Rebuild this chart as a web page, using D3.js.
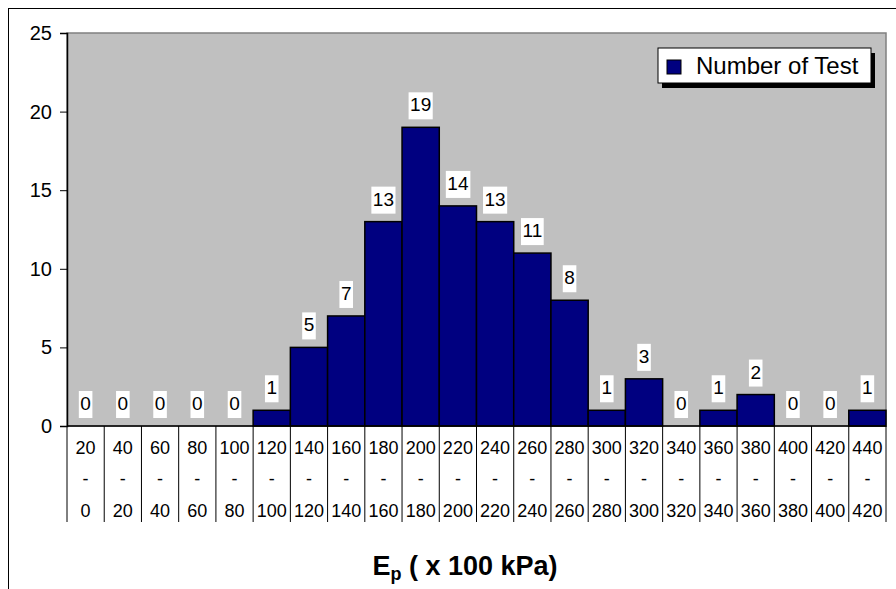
<!DOCTYPE html>
<html>
<head>
<meta charset="utf-8">
<script src="https://cdn.jsdelivr.net/npm/d3@7"></script>
<style>
  body { margin: 0; background: #fff; }
  svg { display: block; font-family: Arial, "Liberation Sans", sans-serif; }
</style>
</head>
<body>
<div class="chart-wrapper"></div>
<script>
// bin upper / lower edges (x 100 kPa) and counts
const upperEdges = ['20', '40', '60', '80', '100', '120', '140', '160', '180', '200', '220',
  '240', '260', '280', '300', '320', '340', '360', '380', '400', '420', '440'];
const lowerEdges = ['0', '20', '40', '60', '80', '100', '120', '140', '160', '180', '200',
  '220', '240', '260', '280', '300', '320', '340', '360', '380', '400', '420'];
const counts = [0, 0, 0, 0, 0, 1, 5, 7, 13, 19, 14, 13, 11, 8, 1, 3, 0, 1, 2, 0, 0, 1];
const yTicks = [0, 5, 10, 15, 20, 25];
const seriesName = 'Number of Test';

const width = 896, height = 589;
const plot = { left: 67, right: 886, top: 33, bottom: 426 };

const data = upperEdges.map((u, i) => ({ key: u + '-' + lowerEdges[i], upper: u, lower: lowerEdges[i], value: counts[i] }));

const svg = d3.select('.chart-wrapper')
  .append('svg')
  .attr('width', width)
  .attr('height', height);

// outer chart frame
svg.append('rect')
  .attr('x', 8.5).attr('y', 8.5)
  .attr('width', 920).attr('height', 620)
  .attr('fill', 'none')
  .attr('stroke', '#000')
  .attr('stroke-width', 1);

const x = d3.scaleBand()
  .domain(data.map(d => d.key))
  .range([plot.left, plot.right])
  .padding(0);

const y = d3.scaleLinear()
  .domain([0, 25])
  .range([plot.bottom, plot.top]);

// plot area
svg.append('rect')
  .attr('x', plot.left).attr('y', plot.top)
  .attr('width', plot.right - plot.left).attr('height', plot.bottom - plot.top)
  .attr('fill', '#c0c0c0')
  .attr('stroke', '#808080')
  .attr('stroke-width', 1.5);

// bars
svg.append('g')
  .selectAll('rect')
  .data(data)
  .enter()
  .append('rect')
  .attr('x', d => x(d.key))
  .attr('y', d => y(d.value))
  .attr('width', x.bandwidth())
  .attr('height', d => y(0) - y(d.value))
  .attr('fill', '#000080')
  .attr('stroke', '#000')
  .attr('stroke-width', d => d.value > 0 ? 1.5 : 0);

// y axis
const yAxis = d3.axisLeft(y).tickValues(yTicks).tickSize(7).tickPadding(8);
const yg = svg.append('g')
  .attr('transform', 'translate(' + plot.left + ',0)')
  .call(yAxis);
yg.select('.domain').attr('stroke', '#000').attr('stroke-width', 1.5);
yg.selectAll('.tick line').attr('stroke', '#000');
yg.selectAll('.tick text')
  .attr('font-size', '20px')
  .attr('fill', '#000')
  .attr('font-family', 'Arial, "Liberation Sans", sans-serif');

// x axis line
svg.append('line')
  .attr('x1', plot.left).attr('x2', plot.right)
  .attr('y1', plot.bottom).attr('y2', plot.bottom)
  .attr('stroke', '#000').attr('stroke-width', 1.5);

// category separators (table style)
const edges = data.map(d => x(d.key)).concat([x(data[data.length - 1].key) + x.bandwidth()]);
svg.append('g')
  .selectAll('line')
  .data(edges)
  .enter()
  .append('line')
  .attr('x1', d => d).attr('x2', d => d)
  .attr('y1', plot.bottom).attr('y2', 522)
  .attr('stroke', '#000').attr('stroke-width', 1);

// category labels, three rows
const cats = svg.append('g')
  .selectAll('g')
  .data(data)
  .enter()
  .append('g')
  .attr('transform', d => 'translate(' + (x(d.key) + x.bandwidth() / 2) + ',0)')
  .attr('font-size', '18px')
  .attr('text-anchor', 'middle');
cats.append('text').attr('y', 454).text(d => d.upper);
cats.append('text').attr('y', 485).text('-');
cats.append('text').attr('y', 517).text(d => d.lower);

// value labels with white boxes
const labels = svg.append('g')
  .selectAll('g')
  .data(data)
  .enter()
  .append('g')
  .attr('transform', d => 'translate(' + (x(d.key) + x.bandwidth() / 2) + ',' + (y(d.value) - 8) + ')');

labels.append('text')
  .attr('class', 'label')
  .attr('text-anchor', 'middle')
  .attr('y', -8)
  .attr('font-size', '19px')
  .attr('fill', '#000')
  .text(d => d.value);

labels.each(function () {
  const g = d3.select(this);
  const bb = g.select('text').node().getBBox();
  g.insert('rect', 'text')
    .attr('x', bb.x - 1.5)
    .attr('y', -27)
    .attr('width', bb.width + 3)
    .attr('height', 27)
    .attr('fill', '#fff');
});

// legend
const legend = svg.append('g').attr('transform', 'translate(658,48)');
legend.append('rect')
  .attr('x', 4).attr('y', 5)
  .attr('width', 213).attr('height', 35)
  .attr('fill', '#000');
legend.append('rect')
  .attr('x', 0).attr('y', 0)
  .attr('width', 213).attr('height', 35)
  .attr('fill', '#fff')
  .attr('stroke', '#000')
  .attr('stroke-width', 1);
legend.append('rect')
  .attr('x', 9).attr('y', 12)
  .attr('width', 14).attr('height', 14)
  .attr('fill', '#000080')
  .attr('stroke', '#000')
  .attr('stroke-width', 1);
legend.append('text')
  .attr('x', 38).attr('y', 26)
  .attr('font-size', '24px')
  .attr('fill', '#000')
  .text(seriesName);

// axis title
const title = svg.append('text')
  .attr('x', 465).attr('y', 575)
  .attr('text-anchor', 'middle')
  .attr('font-size', '27px')
  .attr('font-weight', 'bold')
  .attr('fill', '#000');
title.append('tspan').text('E');
title.append('tspan').attr('font-size', '18px').attr('dy', 5).text('p');
title.append('tspan').attr('dy', -5).text(' ( x 100 kPa)');
</script>
</body>
</html>
